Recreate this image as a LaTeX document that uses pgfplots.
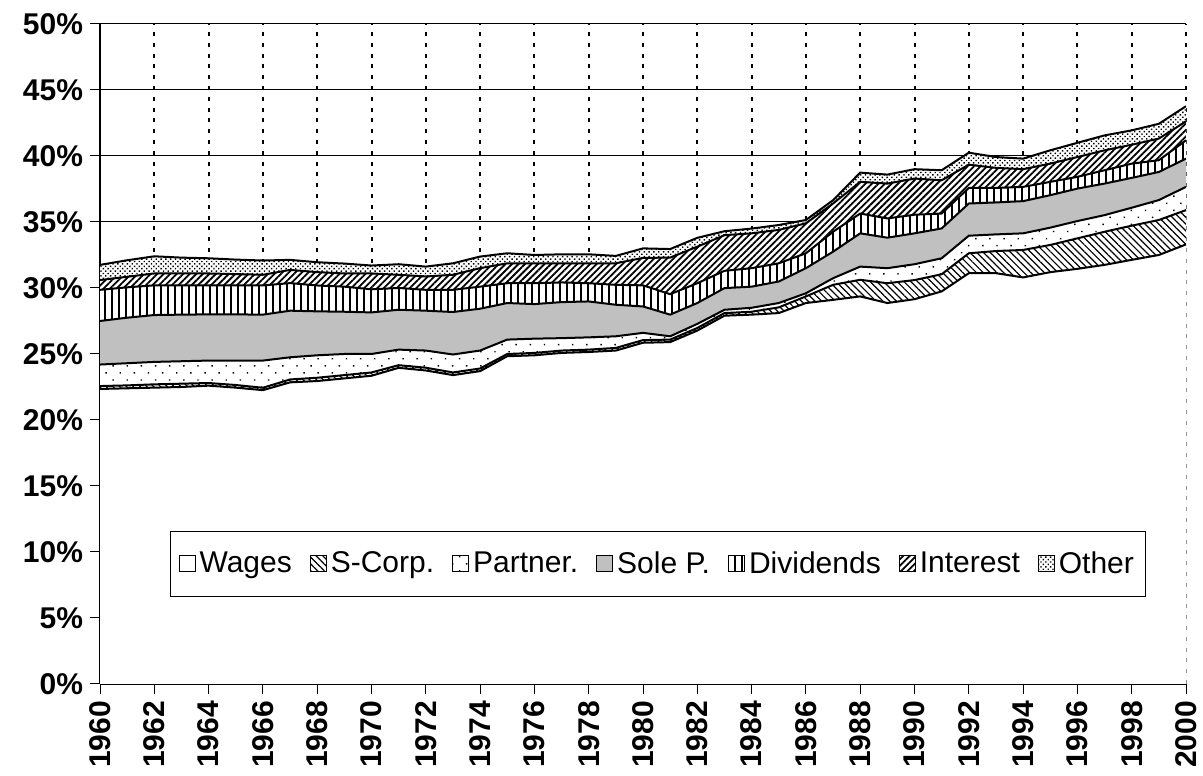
\documentclass[border=0pt]{standalone}
\usepackage{fontspec}
\setmainfont{Liberation Sans}
\usepackage{pgfplots}
\usepackage{pgfplotstable}
\pgfplotsset{compat=1.18}
\usetikzlibrary{patterns.meta,calc}

% cumulative tops (percent of income)
\pgfplotstableread{
year W S P SP D I O
1960 22.35 22.57 24.20 27.50 29.86 30.60 31.75
1961 22.40 22.62 24.30 27.75 30.05 30.85 32.10
1962 22.45 22.70 24.40 27.95 30.20 31.10 32.40
1963 22.50 22.75 24.45 27.98 30.20 31.10 32.30
1964 22.60 22.80 24.50 28.00 30.19 31.10 32.25
1965 22.45 22.65 24.50 28.00 30.19 31.05 32.15
1966 22.26 22.44 24.50 27.98 30.19 31.00 32.08
1967 22.85 23.07 24.75 28.28 30.37 31.37 32.13
1968 22.95 23.20 24.90 28.23 30.19 31.20 31.95
1969 23.15 23.40 25.00 28.20 30.10 31.10 31.85
1970 23.35 23.60 25.00 28.15 29.90 31.10 31.70
1971 23.95 24.15 25.33 28.35 30.00 31.00 31.80
1972 23.75 23.96 25.26 28.28 29.86 30.87 31.62
1973 23.40 23.60 24.96 28.18 29.86 31.00 31.87
1974 23.70 23.90 25.26 28.43 30.10 31.50 32.38
1975 24.83 25.00 26.09 28.86 30.36 31.87 32.63
1976 24.90 25.08 26.16 28.78 30.36 31.87 32.50
1977 25.08 25.26 26.20 28.93 30.42 31.87 32.55
1978 25.15 25.33 26.26 28.98 30.36 31.87 32.55
1979 25.26 25.46 26.34 28.73 30.24 31.87 32.43
1980 25.85 26.05 26.60 28.60 30.20 32.28 33.00
1981 25.90 26.09 26.34 27.98 29.53 32.30 32.95
1982 26.77 26.97 27.28 28.86 30.36 33.13 33.80
1983 27.90 28.10 28.35 29.99 31.30 34.00 34.30
1984 27.98 28.20 28.50 30.10 31.50 34.14 34.50
1985 28.10 28.53 28.86 30.49 31.87 34.40 34.77
1986 28.86 29.36 29.60 31.50 32.63 34.90 35.15
1987 29.10 30.24 30.74 32.75 34.26 36.40 36.65
1988 29.36 30.62 31.62 34.14 35.64 38.04 38.74
1989 28.86 30.36 31.50 33.81 35.27 37.91 38.59
1990 29.15 30.60 31.80 34.14 35.55 38.29 39.00
1991 29.74 31.04 32.25 34.51 35.64 38.16 38.92
1992 31.12 32.63 33.96 36.40 37.58 39.34 40.25
1993 31.12 32.80 34.06 36.48 37.58 39.10 39.92
1994 30.80 32.88 34.14 36.58 37.66 39.00 39.80
1995 31.20 33.26 34.57 37.03 38.04 39.42 40.43
1996 31.45 33.76 35.07 37.53 38.42 39.92 41.00
1997 31.75 34.26 35.52 37.91 38.92 40.43 41.56
1998 32.13 34.72 36.08 38.34 39.42 40.85 41.94
1999 32.50 35.15 36.66 38.79 39.68 41.32 42.44
2000 33.30 35.90 37.66 39.80 41.19 42.62 43.77
}\data

\begin{document}
\begin{tikzpicture}
\begin{axis}[
  scale only axis, width=543pt, height=330pt,
  xmin=1960, xmax=2000, ymin=0, ymax=50,
  axis x line*=bottom, axis y line*=left,
  axis line style={black, line width=0.75pt},
  xtick={1960,1962,...,2000},
  xticklabels={1960,1962,1964,1966,1968,1970,1972,1974,1976,1978,1980,1982,1984,1986,1988,1990,1992,1994,1996,1998,2000},
  ytick={0,5,...,50},
  yticklabels={0\%,5\%,10\%,15\%,20\%,25\%,30\%,35\%,40\%,45\%,50\%},
  tick align=outside, major tick length=5pt,
  tick style={black, line width=0.5pt},
  ticklabel style={font=\bfseries\fontsize{15}{18}\selectfont},
  xticklabel style={rotate=90, anchor=east},
  xmajorgrids, ymajorgrids,
  x grid style={black, line width=1pt, dash pattern=on 2pt off 3.4pt},
  y grid style={black, line width=0.5pt},
  legend style={at={(0.0645,0.132)}, anchor=south west, legend columns=-1,
    draw=black, line width=0.5pt, font=\fontsize{15}{18}\selectfont,
    inner xsep=4pt, inner ysep=8pt,
    /tikz/every even column/.append style={column sep=7pt}},
  reverse legend,
  legend image code/.code={\draw[#1,draw=black,line width=0.5pt] (0pt,-4pt) rectangle (8pt,4pt);},
]
\addplot[draw=none, preaction={fill=white}, pattern={Dots[angle=45,distance=1.7pt,radius=0.5pt]}] table[x=year,y=O]{\data} \closedcycle;
\addlegendentry{Other}
\addplot[draw=none, preaction={fill=white}, pattern={Lines[angle=45,distance=2.3pt,line width=0.9pt]}] table[x=year,y=I]{\data} \closedcycle;
\addlegendentry{Interest}
\addplot[draw=none, preaction={fill=white}, pattern={Lines[angle=90,distance=3.5pt,line width=1pt]}] table[x=year,y=D]{\data} \closedcycle;
\addlegendentry{Dividends}
\addplot[draw=none, fill={rgb,255:red,192;green,192;blue,192}] table[x=year,y=SP]{\data} \closedcycle;
\addlegendentry{Sole P.}
\addplot[draw=none, preaction={fill=white}, pattern={Dots[angle=45,distance=5pt,radius=0.5pt]}] table[x=year,y=P]{\data} \closedcycle;
\addlegendentry{Partner.}
\addplot[draw=none, preaction={fill=white}, pattern={Lines[angle=-45,distance=2.4pt,line width=0.6pt]}] table[x=year,y=S]{\data} \closedcycle;
\addlegendentry{S-Corp.}
\addplot[draw=none, fill=white] table[x=year,y=W]{\data} \closedcycle;
\addlegendentry{Wages}
\addplot[black, line width=1pt, forget plot] table[x=year,y=O]{\data};
\addplot[black, line width=1pt, forget plot] table[x=year,y=I]{\data};
\addplot[black, line width=1pt, forget plot] table[x=year,y=D]{\data};
\addplot[black, line width=1pt, forget plot] table[x=year,y=SP]{\data};
\addplot[black, line width=1pt, forget plot] table[x=year,y=P]{\data};
\addplot[black, line width=1pt, forget plot] table[x=year,y=S]{\data};
\addplot[black, line width=1pt, forget plot] table[x=year,y=W]{\data};
\coordinate (sw) at (rel axis cs:0,0);
\coordinate (ne) at (rel axis cs:1,1);
\end{axis}
\pgfresetboundingbox
\path[use as bounding box] ($(sw)+(-50pt,-46pt)$) rectangle ($(ne)+(8.5pt,12pt)$);
\end{tikzpicture}
\end{document}
